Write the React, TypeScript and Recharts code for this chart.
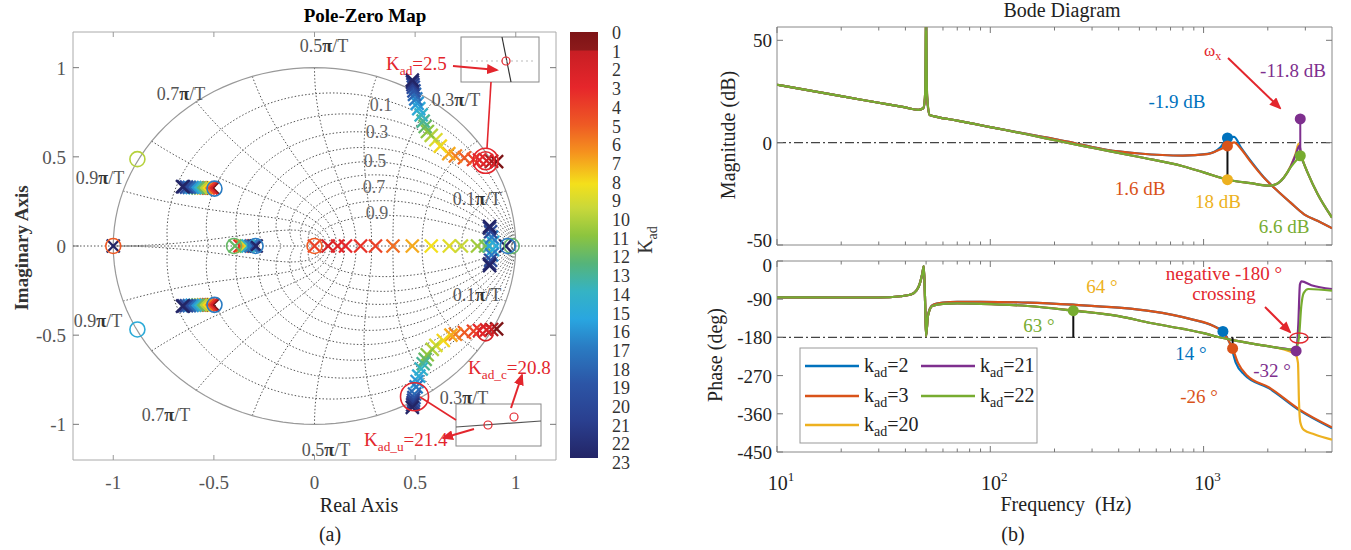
import React from "react";
import { ComposedChart, Line, Scatter, XAxis, YAxis, ReferenceLine, ReferenceArea } from "recharts";

const SERIF = "Liberation Serif, Times New Roman, serif";
const RED = "#e3262d";

// kad values of the five Bode curves
const kadList = [2, 3, 20, 21, 22];
const kadColor: Record<number, string> = { 2: "#0072BD", 3: "#D95319", 20: "#EDB120", 21: "#7E2F8E", 22: "#77AC30" };

// ---- Bode magnitude (dB) ----
const magLowF = [10, 20, 30, 40, 46, 48.5, 49.5, 50, 50.5, 52, 56, 70, 100, 150];
const magLowSharp = [28.3, 22.7, 19.5, 17.2, 16.0, 16.8, 24, 70, 24, 13.5, 12.6, 10.8, 7.6, 4.0];
const magLowSoft = [28.3, 22.7, 19.5, 17.2, 16.0, 16.8, 22, 32, 22, 13.5, 12.6, 10.8, 7.6, 4.2];

const magHiF23 = [200, 250, 350, 500, 800, 1040, 1200, 1294, 1390, 1495, 1660, 1920, 2218, 2558, 2960, 3420, 4000];
const magHi2 = [1.8, -0.3, -3.5, -5.3, -6.3, -5.5, -2.3, 2.3, 2.8, -2.3, -8.8, -17, -23.5, -29.3, -35, -38.2, -41.8];
const magHi3 = [1.8, -0.3, -3.5, -5.3, -6.3, -5.6, -3.2, -1.6, 0.1, -3, -9.3, -17.2, -23.5, -29.3, -35, -38.2, -41.8];

const magHiF20 = [220, 300, 500, 800, 1000, 1290, 1660, 2040, 2200, 2380, 2558, 2700, 2790, 2851, 2960, 3070, 3420, 4000];
const magHi20 = [0.3, -2.5, -7, -11.5, -14.5, -18.1, -19.8, -21, -20.2, -17, -11.5, -5.5, -0.5, -5, -10.5, -14.5, -25, -36.6];
const magHiF21 = [220, 300, 500, 800, 1000, 1290, 1660, 2040, 2200, 2380, 2558, 2700, 2820, 2870, 2960, 3070, 3420, 4000];
const magHi21 = [0.3, -2.5, -7, -11.5, -14.5, -18, -19.8, -21, -20.2, -17, -11.8, -6, -1.5, -6.5, -10.5, -14.5, -25, -36.6];
const magHiF22 = [220, 300, 500, 800, 1000, 1290, 1660, 2040, 2200, 2380, 2558, 2754, 2851, 2960, 3070, 3420, 4000];
const magHi22 = [0.3, -2.5, -7, -11.5, -14.5, -18, -19.8, -21, -20.2, -17, -12.1, -8, -6.4, -10.5, -14.5, -25, -36.6];

// ---- Bode phase (deg) ----
const phLowF = [10, 20, 30, 38, 42.5, 45, 46.6, 48, 48.8, 49.5, 50, 51, 53.5, 60, 70, 90];
const phLowA = [-85.5, -86, -86, -83, -79, -70, -55, -30, -12, -100, -177, -130, -106, -101, -100, -101];
const phLowB = [-85.5, -86, -86, -83, -79, -70, -55, -30, -12, -100, -177, -128, -104, -98, -96, -96];

const phHiF2 = [150, 245, 400, 564, 891, 1100, 1232, 1343, 1417, 1555, 2030, 2818, 4000];
const phHi2 = [-98, -103, -110, -118, -138, -152, -166, -200, -240, -268, -300, -352, -394];
const phHiF3 = [150, 245, 400, 564, 891, 1100, 1232, 1300, 1368, 1450, 1600, 2030, 2818, 4000];
const phHi3 = [-98, -103, -110, -118, -138, -152, -168, -185, -206, -240, -270, -298, -350, -392];
const phHiF20 = [150, 245, 400, 564, 800, 1000, 1170, 1500, 1795, 2200, 2500, 2700, 2770, 2800, 2840, 2950, 3300, 4000];
const phHi20 = [-106, -116, -130, -146, -160, -170, -179, -190, -197, -204, -212, -220, -240, -330, -380, -398, -408, -421];
const phHiF21 = [150, 245, 400, 564, 800, 1000, 1170, 1500, 1795, 2200, 2500, 2716, 2780, 2830, 2880, 3200, 4000];
const phHi21 = [-106, -117, -130, -146, -160, -170, -179, -190, -197, -204, -208, -212, -150, -55, -48, -57, -66];
const phHiF22 = [150, 245, 400, 564, 800, 1000, 1170, 1500, 1795, 2200, 2500, 2716, 2800, 2870, 2950, 3100, 4000];
const phHi22 = [-106, -117, -130, -146, -160, -170, -179, -190, -197, -204, -208, -205, -180, -107, -75, -66, -70];

// margin markers
const magDots = [
  { f: 1294, v: 2.3, k: 2 }, { f: 1294, v: -1.6, k: 3 }, { f: 1294, v: -18.1, k: 20 },
  { f: 2840, v: 11.6, k: 21 }, { f: 2840, v: -6.4, k: 22 },
];
const magStems = [{ f: 1294, from: -18.1, to: -1.6, k: 0 }, { f: 2840, from: -6.4, to: 11.6, k: 21 }];
const phDots = [{ f: 245, v: -117, k: 22 }, { f: 1232, v: -166, k: 2 }, { f: 1368, v: -206, k: 3 }, { f: 2716, v: -212, k: 21 }];
const phStems = [{ f: 245, from: -180, to: -117, k: 0 }, { f: 1368, from: -180, to: -206, k: 0 }];

const bodeXTicks = [10, 20, 30, 40, 50, 60, 70, 80, 90, 100, 200, 300, 400, 500, 600, 700, 800, 900, 1000, 2000, 3000];
const decades = [10, 100, 1000];
const magTicks = [-50, 0, 50];
const phTicks = [-450, -360, -270, -180, -90, 0];

type FV = { f: number; v: number };
const zip = (fs: number[], vs: number[]): FV[] => fs.map((f, i) => ({ f, v: vs[i] }));

const magSeries: Record<number, FV[]> = {
  2: zip([...magLowF, ...magHiF23], [...magLowSoft, ...magHi2]),
  3: zip([...magLowF, ...magHiF23], [...magLowSoft, ...magHi3]),
  20: zip([...magLowF, ...magHiF20], [...magLowSharp, ...magHi20]),
  21: zip([...magLowF, ...magHiF21], [...magLowSharp, ...magHi21]),
  22: zip([...magLowF, ...magHiF22], [...magLowSharp, ...magHi22]),
};
const phSeries: Record<number, FV[]> = {
  2: zip([...phLowF, ...phHiF2], [...phLowB, ...phHi2]),
  3: zip([...phLowF, ...phHiF3], [...phLowB, ...phHi3]),
  20: zip([...phLowF, ...phHiF20], [...phLowA, ...phHi20]),
  21: zip([...phLowF, ...phHiF21], [...phLowA, ...phHi21]),
  22: zip([...phLowF, ...phHiF22], [...phLowA, ...phHi22]),
};

// ---- pole-zero map: [re, im, kad] ----
const polesUpper = [
  [0.905, 0.473, 0], [0.88, 0.475, 1], [0.855, 0.478, 2], [0.82, 0.482, 3], [0.79, 0.485, 4], [0.745, 0.495, 5],
  [0.7, 0.505, 6], [0.667, 0.518, 7], [0.625, 0.56, 8], [0.603, 0.596, 9], [0.58, 0.62, 10], [0.561, 0.642, 11],
  [0.55, 0.67, 12], [0.54, 0.7, 13], [0.53, 0.735, 14], [0.518, 0.77, 15], [0.51, 0.8, 16], [0.503, 0.825, 17],
  [0.497, 0.85, 18], [0.494, 0.87, 19], [0.491, 0.89, 20], [0.489, 0.905, 21], [0.487, 0.918, 22], [0.486, 0.93, 23],
];
const polesLower = [
  [0.905, -0.465, 0], [0.88, -0.468, 1], [0.855, -0.47, 2], [0.82, -0.474, 3], [0.79, -0.478, 4], [0.745, -0.485, 5],
  [0.7, -0.495, 6], [0.678, -0.5, 7], [0.64, -0.53, 8], [0.603, -0.557, 9], [0.585, -0.58, 10], [0.56, -0.61, 11],
  [0.55, -0.636, 12], [0.54, -0.66, 13], [0.53, -0.69, 14], [0.518, -0.73, 15], [0.51, -0.76, 16], [0.505, -0.79, 17],
  [0.497, -0.83, 18], [0.494, -0.85, 19], [0.492, -0.865, 20], [0.49, -0.878, 21], [0.488, -0.89, 22], [0.486, -0.905, 23],
];
const polesReal = [
  [0.0, 0, 4], [0.068, 0, 2], [0.115, 0, 2.5], [0.154, 0, 3], [0.229, 0, 3.5], [0.303, 0, 4], [0.39, 0, 5.5],
  [0.486, 0, 7], [0.58, 0, 8.2], [0.67, 0, 8.8], [0.73, 0, 9.5], [0.81, 0, 10.5], [0.85, 0, 11.5], [0.87, 0, 13],
  [0.885, 0.02, 15], [0.885, -0.02, 15], [0.88, 0.05, 17], [0.88, -0.05, 17], [0.875, 0.08, 20], [0.875, -0.08, 20],
  [0.87, 0.1, 22], [0.87, -0.1, 22], [0.87, 0.11, 23], [0.87, -0.11, 23], [0.95, 0, 23],
];
const polesLeftUp = [
  [-0.505, 0.325, 0], [-0.515, 0.325, 2], [-0.528, 0.325, 4], [-0.54, 0.325, 6], [-0.553, 0.325, 8], [-0.566, 0.326, 10],
  [-0.58, 0.326, 12], [-0.594, 0.327, 14], [-0.608, 0.328, 16], [-0.622, 0.329, 18], [-0.636, 0.33, 20], [-0.65, 0.332, 22], [-0.656, 0.333, 23],
];
const polesLeftDown = [
  [-0.505, -0.33, 0], [-0.515, -0.33, 2], [-0.528, -0.33, 4], [-0.54, -0.33, 6], [-0.553, -0.33, 8], [-0.566, -0.331, 10],
  [-0.58, -0.331, 12], [-0.594, -0.332, 14], [-0.608, -0.333, 16], [-0.622, -0.334, 18], [-0.636, -0.335, 20], [-0.65, -0.336, 22], [-0.656, -0.337, 23],
];
const polesLeftReal = [[-0.37, 0, 3], [-0.36, 0, 5], [-0.35, 0, 7], [-0.34, 0, 9], [-0.395, 0, 12], [-0.33, 0, 14], [-0.315, 0, 17], [-0.3, 0, 20], [-0.29, 0, 23], [-1, 0, 23]];
const zerosAll = [
  [-1, 0, 5], [-0.88, 0.487, 10], [-0.88, -0.468, 15], [-0.497, 0.322, 17], [-0.497, -0.33, 17], [-0.4, 0, 12],
  [-0.293, 0, 17], [0, 0, 5], [0.98, 0, 12], [0.96, 0, 17], [0.85, -0.49, 2],
];
const ringUpper = [[0.85, 0.478, 2]];
const ringLower = [[0.497, -0.845, 2]];
const pzTicks = [-1, -0.5, 0, 0.5, 1];
const zetaVals = [0.1, 0.2, 0.3, 0.4, 0.5, 0.6, 0.7, 0.8, 0.9];
const wnVals = [1, 2, 3, 4, 5, 6, 7, 8, 9, 10];
const colorTicks = [0, 1, 2, 3, 4, 5, 6, 7, 8, 9, 10, 11, 12, 13, 14, 15, 16, 17, 18, 19, 20, 21, 22, 23];

const toPts = (a: number[][]) => a.map(([x, y, k]) => ({ x, y, k }));
const poles = toPts([...polesUpper, ...polesLower, ...polesReal, ...polesLeftUp, ...polesLeftDown, ...polesLeftReal]);
const zeros = toPts(zerosAll);

// colormap (jet-like, 0 = dark red, 23 = dark blue)
const cStops: [number, string][] = [
  [0, "#7d1416"], [0.95, "#8c1a1b"], [1.05, "#c81e24"], [3, "#e6262b"], [5, "#ee5a24"], [6.5, "#f5921e"],
  [8.2, "#f4e01b"], [9.5, "#c9d83a"], [11, "#8cc43f"], [12.5, "#55b47a"], [14, "#35b3c4"], [15.5, "#29a6e0"],
  [17, "#2a7cc3"], [19, "#2c55a6"], [21, "#2a3f8f"], [23, "#232566"],
];
function kColor(k: number): string {
  const hx = (s: string) => [1, 3, 5].map((i) => parseInt(s.slice(i, i + 2), 16));
  for (let i = 1; i < cStops.length; i++) {
    const [k1, c1] = cStops[i];
    if (k <= k1) {
      const [k0, c0] = cStops[i - 1];
      const t = (k - k0) / (k1 - k0 || 1);
      const a = hx(c0), b = hx(c1);
      return `rgb(${a.map((v, j) => Math.round(v + (b[j] - v) * t)).join(",")})`;
    }
  }
  return cStops[cStops.length - 1][1];
}

// z-plane grid (constant damping / constant natural frequency)
function zetaCurve(z: number, s: number) {
  const out: { x: number; y: number }[] = [];
  for (let i = 0; i <= 80; i++) {
    const th = (Math.PI * i) / 80;
    const r = Math.exp((-z * th) / Math.sqrt(1 - z * z));
    out.push({ x: r * Math.cos(th), y: s * r * Math.sin(th) });
  }
  return out;
}
function wnCurve(k: number, s: number) {
  const wn = (k * Math.PI) / 10;
  const out: { x: number; y: number }[] = [];
  for (let i = 0; i <= 50; i++) {
    const z = i / 50;
    const r = Math.exp(-z * wn);
    const th = wn * Math.sqrt(1 - z * z);
    out.push({ x: r * Math.cos(th), y: s * r * Math.sin(th) });
  }
  return out;
}
const unitCircle = Array.from({ length: 121 }, (_, i) => ({ x: Math.cos((i * Math.PI) / 60), y: Math.sin((i * Math.PI) / 60) }));

// ---- tick renderers ----
const makeXTick = (top: number, bottom: number, labelY: number | null) => (p: any) => {
  const v = p.payload.value;
  const major = decades.includes(v);
  const len = major ? 6 : 3.5;
  return (
    <g>
      <line x1={p.x} x2={p.x} y1={bottom} y2={bottom - len} stroke="#777" />
      <line x1={p.x} x2={p.x} y1={top} y2={top + len} stroke="#777" />
      {labelY !== null && major && (
        <text x={p.x + 4} y={labelY} textAnchor="middle" fontSize={20} fill="#222" style={{ fontFamily: SERIF }}>
          10<tspan dy={-9} fontSize={13}>{Math.round(Math.log10(v))}</tspan>
        </text>
      )}
    </g>
  );
};
const makeYTick = (left: number, right: number, labelX: number, color: string, nudge: Record<number, number> = {}) => (p: any) => (
  <g>
    <line x1={left} x2={left + 6} y1={p.y} y2={p.y} stroke="#777" />
    <line x1={right} x2={right - 6} y1={p.y} y2={p.y} stroke="#777" />
    <text x={labelX} y={p.y + 7 + (nudge[p.payload.value] || 0)} textAnchor="end" fontSize={19} fill={color} style={{ fontFamily: SERIF }}>
      {p.payload.value}
    </text>
  </g>
);
const pzXTick = (p: any) => (
  <g>
    <line x1={p.x} x2={p.x} y1={460} y2={455} stroke="#999" />
    <line x1={p.x} x2={p.x} y1={32} y2={37} stroke="#999" />
    <text x={p.x} y={489} textAnchor="middle" fontSize={19} fill="#555" style={{ fontFamily: SERIF }}>{p.payload.value}</text>
  </g>
);

const poleShape = (p: any) => {
  const c = kColor(p.payload.k);
  const s = 6.5;
  return (
    <g stroke={c} strokeWidth={2.3}>
      <line x1={p.cx - s} y1={p.cy - s} x2={p.cx + s} y2={p.cy + s} />
      <line x1={p.cx - s} y1={p.cy + s} x2={p.cx + s} y2={p.cy - s} />
    </g>
  );
};
const zeroShape = (p: any) => <circle cx={p.cx} cy={p.cy} r={7.5} fill="none" stroke={kColor(p.payload.k)} strokeWidth={1.6} />;

function PoleZero() {
  return (
    <ComposedChart width={680} height={550} margin={{ top: 32, right: 124, bottom: 60, left: 33 }}>
      <XAxis type="number" dataKey="x" domain={[-1.2, 1.2]} allowDataOverflow ticks={pzTicks} interval={0} height={30} axisLine={false} tickLine={false} tick={pzXTick} />
      <YAxis type="number" dataKey="y" domain={[-1.2, 1.2]} allowDataOverflow ticks={pzTicks} interval={0} width={40} axisLine={false} tickLine={false} tick={makeYTick(73, 556, 66, "#555")} />
      <ReferenceArea x1={-1.2} x2={1.2} y1={-1.2} y2={1.2} fill="none" stroke="#aaa" />
      <ReferenceLine y={0} stroke="#555" strokeDasharray="1.5 2" />
      {zetaVals.flatMap((z) => [1, -1].map((s) => (
        <Line key={`z${z}${s}`} data={zetaCurve(z, s)} dataKey="y" type="linear" stroke="#555" strokeWidth={1} strokeDasharray="1.5 2" dot={false} isAnimationActive={false} />
      )))}
      {wnVals.flatMap((k) => [1, -1].map((s) => (
        <Line key={`w${k}${s}`} data={wnCurve(k, s)} dataKey="y" type="linear" stroke="#555" strokeWidth={1} strokeDasharray="1.5 2" dot={false} isAnimationActive={false} />
      )))}
      <Line data={unitCircle} dataKey="y" type="linear" stroke="#999" strokeWidth={1.2} dot={false} isAnimationActive={false} />
      <Scatter data={poles} dataKey="y" shape={poleShape} isAnimationActive={false} />
      <Scatter data={zeros} dataKey="y" shape={zeroShape} isAnimationActive={false} />
      <Scatter data={toPts(ringUpper)} dataKey="y" isAnimationActive={false}
        shape={(p: any) => (<g fill="none" stroke={RED} strokeWidth={1.6}><circle cx={p.cx} cy={p.cy} r={9} /><circle cx={p.cx} cy={p.cy} r={12.5} /></g>)} />
      <Scatter data={toPts(ringLower)} dataKey="y" isAnimationActive={false}
        shape={(p: any) => <circle cx={p.cx} cy={p.cy} r={14} fill="none" stroke={RED} strokeWidth={1.6} />} />
    </ComposedChart>
  );
}

function BodeChart({ height, top, bottom, xh, domain, ticks, series, dots, stems, refY, labelY, nudge }: any) {
  const plotBottom = height - bottom - xh;
  return (
    <ComposedChart width={661} height={height} margin={{ top, right: 19, bottom, left: 37 }}>
      <XAxis type="number" dataKey="f" scale="log" domain={[10, 4000]} allowDataOverflow ticks={bodeXTicks} interval={0} height={xh} axisLine={false} tickLine={false} tick={makeXTick(top, plotBottom, labelY)} />
      <YAxis type="number" dataKey="v" domain={domain} allowDataOverflow ticks={ticks} interval={0} width={50} axisLine={false} tickLine={false} tick={makeYTick(87, 642, 82, "#222", nudge)} />
      <ReferenceArea x1={10} x2={4000} y1={domain[0]} y2={domain[1]} fill="none" stroke="#888" />
      <ReferenceLine y={refY} stroke="#444" strokeWidth={1.3} strokeDasharray="9 3 2 3" />
      {kadList.map((k) => (
        <Line key={k} data={series[k]} dataKey="v" type="monotone" stroke={kadColor[k]} strokeWidth={2.2} dot={false} isAnimationActive={false} />
      ))}
      {stems.map((s: any, i: number) => (
        <ReferenceLine key={`s${i}`} segment={[{ x: s.f, y: s.from }, { x: s.f, y: s.to }]} stroke={s.k ? kadColor[s.k] : "#111"} strokeWidth={2} />
      ))}
      {dots.map((d: any, i: number) => (
        <Scatter key={`d${i}`} data={[d]} dataKey="v" isAnimationActive={false}
          shape={(p: any) => <circle cx={p.cx} cy={p.cy} r={5.5} fill={kadColor[d.k]} />} />
      ))}
    </ComposedChart>
  );
}

const Sub = ({ main, sub, rest, size = 19 }: any) => (
  <>
    {main}
    <tspan dy={5} fontSize={size * 0.7}>{sub}</tspan>
    <tspan dy={-5}>{rest}</tspan>
  </>
);

const piLabels: [string, number, number][] = [
  ["0.5", 324, 46], ["0.7", 181, 94], ["0.3", 456, 100], ["0.9", 100, 178], ["0.1", 477, 199],
  ["0.1", 477, 295], ["0.9", 98, 321], ["0.3", 464, 398], ["0.7", 166, 415], ["0.5", 326, 450],
];
const zetaLabels: [string, number, number][] = [["0.1", 381, 111], ["0.3", 377, 138], ["0.5", 375, 167], ["0.7", 374, 193], ["0.9", 377, 219]];

function Overlay() {
  const t = { style: { fontFamily: SERIF } };
  return (
    <svg width={1351} height={550} style={{ position: "absolute", left: 0, top: 0, pointerEvents: "none" }}>
      <defs>
        <marker id="ah" markerWidth={12} markerHeight={10} refX={10} refY={5} orient="auto" markerUnits="userSpaceOnUse">
          <path d="M0,0 L12,5 L0,10 z" fill={RED} />
        </marker>
        <linearGradient id="cb" x1="0" y1="0" x2="0" y2="1">
          {cStops.map(([k, c]) => <stop key={k} offset={k / 23} stopColor={c} />)}
        </linearGradient>
      </defs>

      {/* pole-zero panel */}
      <text {...t} x={365} y={22} textAnchor="middle" fontWeight="bold" fontSize={19}>Pole-Zero Map</text>
      <text {...t} x={359} y={512} textAnchor="middle" fontSize={20} fill="#222">Real Axis</text>
      <text {...t} x={330} y={541} textAnchor="middle" fontSize={20} fill="#222">(a)</text>
      <text {...t} transform="translate(28,248) rotate(-90)" textAnchor="middle" fontWeight="bold" fontSize={19} fill="#333">Imaginary Axis</text>
      {piLabels.map(([v, x, y], i) => (
        <text key={i} {...t} x={x} y={y + 6} textAnchor="middle" fontSize={18} fill="#555">
          {v}<tspan fontWeight="bold" fill="#333">π</tspan>/T
        </text>
      ))}
      {zetaLabels.map(([v, x, y], i) => (
        <text key={i} {...t} x={x} y={y} textAnchor="middle" fontSize={18} fill="#666">{v}</text>
      ))}
      {/* insets */}
      <rect x={461} y={37} width={78} height={45} fill="#fff" stroke="#888" />
      <line x1={502} y1={37} x2={511} y2={82} stroke="#333" strokeWidth={1.2} />
      <line x1={466} y1={61} x2={534} y2={61} stroke="#bbb" strokeWidth={1} strokeDasharray="2 3" />
      <circle cx={506} cy={61} r={4} fill="none" stroke={RED} strokeWidth={1.2} />
      <rect x={456} y={404} width={85} height={42} fill="#fff" stroke="#888" />
      <line x1={456} y1={427} x2={541} y2={421} stroke="#555" strokeWidth={1.2} />
      <circle cx={488} cy={425} r={4} fill="none" stroke={RED} strokeWidth={1.2} />
      <circle cx={514} cy={417} r={4} fill="none" stroke={RED} strokeWidth={1.2} />
      {/* red callouts */}
      <line x1={491} y1={82} x2={487} y2={148} stroke={RED} strokeWidth={1.6} />
      <line x1={420} y1={397} x2={456} y2={420} stroke={RED} strokeWidth={1.6} />
      <line x1={453} y1={66} x2={497} y2={70} stroke={RED} strokeWidth={2} markerEnd="url(#ah)" />
      <line x1={511} y1={408} x2={522} y2={375} stroke={RED} strokeWidth={2} markerEnd="url(#ah)" />
      <line x1={474} y1={429} x2={443} y2={438} stroke={RED} strokeWidth={2} markerEnd="url(#ah)" />
      <text {...t} x={386} y={70} fontSize={19} fill={RED}><Sub main="K" sub="ad" rest="=2.5" /></text>
      <text {...t} x={468} y={374} fontSize={19} fill={RED}><Sub main="K" sub="ad_c" rest="=20.8" /></text>
      <text {...t} x={364} y={446} fontSize={19} fill={RED}><Sub main="K" sub="ad_u" rest="=21.4" /></text>
      {/* colorbar */}
      <rect x={570} y={32} width={28} height={426} fill="url(#cb)" />
      {colorTicks.map((k) => (
        <text key={k} {...t} x={612} y={33 + k * 18.7 + 6} fontSize={18} fill="#333">{k}</text>
      ))}
      <text {...t} transform="translate(652,240) rotate(-90)" textAnchor="middle" fontSize={20} fill="#333">
        K<tspan dy={5} fontSize={14}>ad</tspan>
      </text>

      {/* bode panel */}
      <text {...t} x={1062} y={17} textAnchor="middle" fontSize={20} fill="#222">Bode Diagram</text>
      <text {...t} x={1066} y={511} textAnchor="middle" fontSize={20} fill="#222" xmlSpace="preserve">Frequency  (Hz)</text>
      <text {...t} x={1013} y={541} textAnchor="middle" fontSize={20} fill="#222">(b)</text>
      <text {...t} transform="translate(735,135) rotate(-90)" textAnchor="middle" fontSize={20} fill="#222">Magnitude (dB)</text>
      <text {...t} transform="translate(722,355) rotate(-90)" textAnchor="middle" fontSize={20} fill="#222">Phase (deg)</text>

      <text {...t} x={1177} y={108} textAnchor="middle" fontSize={19} fill={kadColor[2]}>-1.9 dB</text>
      <text {...t} x={1140} y={195} textAnchor="middle" fontSize={19} fill={kadColor[3]}>1.6 dB</text>
      <text {...t} x={1218} y={208} textAnchor="middle" fontSize={19} fill={kadColor[20]}>18 dB</text>
      <text {...t} x={1284} y={233} textAnchor="middle" fontSize={19} fill={kadColor[22]}>6.6 dB</text>
      <text {...t} x={1293} y={77} textAnchor="middle" fontSize={19} fill={kadColor[21]}>-11.8 dB</text>
      <text {...t} x={1204} y={56} fontSize={17} fill={RED}>ω<tspan dy={4} fontSize={12}>x</tspan></text>
      <line x1={1228} y1={58} x2={1280} y2={108} stroke={RED} strokeWidth={2} markerEnd="url(#ah)" />

      <text {...t} x={1102} y={293} textAnchor="middle" fontSize={19} fill={kadColor[20]}>64 °</text>
      <text {...t} x={1039} y={332} textAnchor="middle" fontSize={19} fill={kadColor[22]}>63 °</text>
      <text {...t} x={1191} y={360} textAnchor="middle" fontSize={19} fill={kadColor[2]}>14 °</text>
      <text {...t} x={1199} y={403} textAnchor="middle" fontSize={19} fill={kadColor[3]}>-26 °</text>
      <text {...t} x={1272} y={377} textAnchor="middle" fontSize={19} fill={kadColor[21]}>-32 °</text>
      <text {...t} x={1224} y={280} textAnchor="middle" fontSize={19} fill={RED}>negative -180 °</text>
      <text {...t} x={1224} y={300} textAnchor="middle" fontSize={19} fill={RED}>crossing</text>
      <line x1={1265} y1={307} x2={1290} y2={332} stroke={RED} strokeWidth={2} markerEnd="url(#ah)" />
      <ellipse cx={1299} cy={338} rx={9} ry={5} fill="none" stroke={RED} strokeWidth={1.5} />

      {/* legend */}
      <rect x={800} y={348} width={237} height={95} fill="#fff" stroke="#999" />
      {[[2, 805, 366], [21, 921, 366], [3, 805, 396], [22, 921, 396], [20, 805, 425]].map(([k, x, y]) => (
        <g key={k}>
          <line x1={x} x2={x + 54} y1={y} y2={y} stroke={kadColor[k]} strokeWidth={2.5} />
          <text {...t} x={x + 59} y={y + 6} fontSize={20} fill="#222"><Sub main="k" sub="ad" rest={`=${k}`} size={20} /></text>
        </g>
      ))}
    </svg>
  );
}

export default function App() {
  return (
    <div style={{ position: "absolute", left: 0, top: 0, width: 1351, height: 550, background: "#fff", overflow: "hidden", fontFamily: SERIF }}>
      <div style={{ position: "absolute", left: 0, top: 0 }}>
        <PoleZero />
      </div>
      <div style={{ position: "absolute", left: 690, top: 0 }}>
        <BodeChart height={250} top={27} bottom={0} xh={5} domain={[-50, 56.5]} ticks={magTicks} series={magSeries} dots={magDots} stems={magStems} refY={0} labelY={null} nudge={{ [-50]: -5 }} />
      </div>
      <div style={{ position: "absolute", left: 690, top: 250 }}>
        <BodeChart height={300} top={11} bottom={58} xh={40} domain={[-450, 0]} ticks={phTicks} series={phSeries} dots={phDots} stems={phStems} refY={-180} labelY={240} nudge={{ 0: 4 }} />
      </div>
      <Overlay />
    </div>
  );
}
